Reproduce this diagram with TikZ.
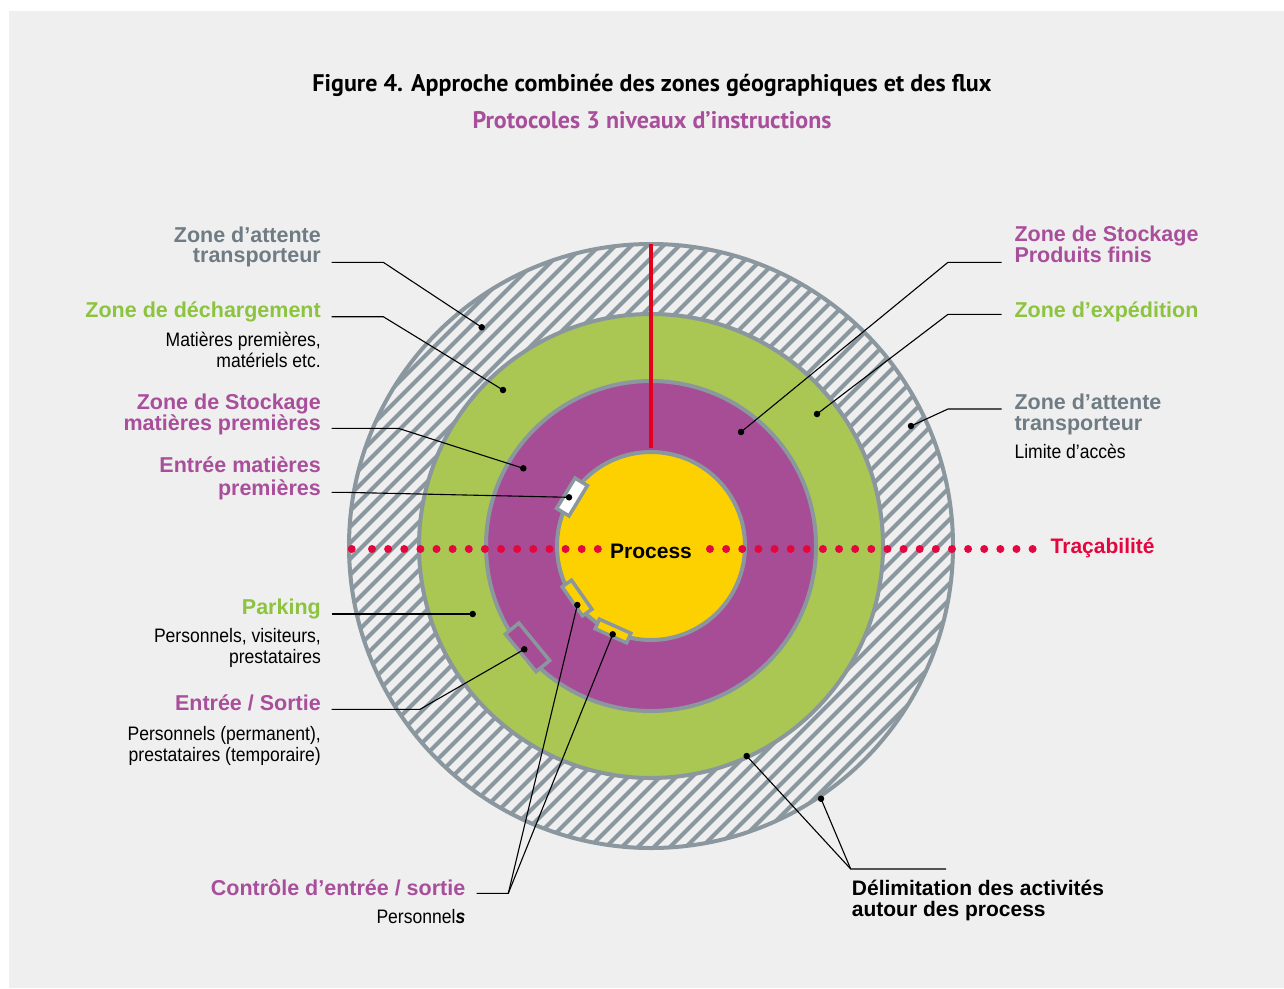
\documentclass[tikz,border=0pt]{standalone}
\usepackage{fontspec}
\setmainfont{Liberation Sans}
\newfontfamily\condfont[FakeStretch=0.9]{Liberation Sans}
\newfontfamily\titlefont{PT Sans}
\definecolor{panel}{HTML}{EFEFEF}
\definecolor{ringgray}{HTML}{8B979E}
\definecolor{greenfill}{HTML}{A9C752}
\definecolor{purplefill}{HTML}{A64D95}
\definecolor{yellowfill}{HTML}{FDD100}
\definecolor{txtgray}{HTML}{6F7C84}
\definecolor{txtgreen}{HTML}{8CC43F}
\definecolor{txtpurple}{HTML}{A94E9B}
\definecolor{dotred}{HTML}{E3063F}
\definecolor{linered}{HTML}{E2001A}
\tikzset{
  lbl/.style={inner sep=0pt, anchor=base east, font=\fontsize{21.5}{21.5}\selectfont\bfseries},
  lblR/.style={lbl, anchor=base west},
  big/.style={inner sep=0pt, font=\fontsize{21}{21}\selectfont\bfseries},
  subl/.style={inner sep=0pt, anchor=base east, font=\condfont\fontsize{19.5}{19.5}\selectfont},
  sublR/.style={subl, anchor=base west},
  gcol/.style={text=txtgray},
  grcol/.style={text=txtgreen},
  pcol/.style={text=txtpurple},
  leader/.style={draw=black, line width=1.1pt},
  ldot/.style={circle, fill=black, inner sep=0pt, minimum size=6.5pt},
  ring/.style={draw=ringgray, line width=4pt},
  hatch/.style={draw=ringgray, line width=4pt},
  gatebox/.style={draw=ringgray, line width=3.5pt, rectangle, inner sep=0pt},
  reddot/.style={fill=dotred},
}
\begin{document}
\begin{tikzpicture}[x=1pt,y=-1pt]
\useasboundingbox (0,0) rectangle (1284,988);
\fill[white] (0,0) rectangle (1284,988);
\fill[panel] (9,11) rectangle (1284,988);

% title
\node[inner sep=0pt, anchor=base, font=\titlefont\bfseries\fontsize{24}{24}\selectfont] (title) at (652,91) {Figure 4. Approche combinée des zones géographiques et des flux};
\node[inner sep=0pt, anchor=base, text=txtpurple, font=\titlefont\bfseries\fontsize{24}{24}\selectfont] (subtitle) at (652,128) {Protocoles 3 niveaux d’instructions};

% rings
\coordinate (C) at (651,546);
\begin{scope}
  \clip (C) circle (302);
  \fill[panel] (C) circle (302);
  \foreach \i in {-45,...,45} {
    \draw[hatch] ({651+16*\i-340},{546+340}) -- ({651+16*\i+340},{546-340});
  }
\end{scope}
\draw[ring] (C) circle (302);
\filldraw[ring, fill=greenfill] (C) circle (232);
\filldraw[ring, fill=purplefill] (C) circle (165);
\filldraw[ring, fill=yellowfill] (C) circle (94);

% red vertical line
\coordinate (rtop) at (651,244);
\coordinate (rbot) at (651,448);
\draw[linered, line width=4pt] (rtop) -- (rbot);

% gates
\node[gatebox, fill=white, minimum width=14.5pt, minimum height=35.5pt, rotate=148.7] (gWhite) at (572,497) {};
\node[gatebox, fill=yellowfill, minimum width=11.5pt, minimum height=35.5pt, rotate=-144.9] (gYelA) at (577,598) {};
\node[gatebox, fill=yellowfill, minimum width=10.5pt, minimum height=34.5pt, rotate=-114.1] (gYelB) at (613,631) {};
\node[gatebox, fill=purplefill, minimum width=17.5pt, minimum height=48.5pt, rotate=-140.6] (gPurple) at (527.5,647.3) {};

% tracability dots
\fill[reddot] (351.7,549) circle (4);
\foreach \i in {0,...,14} { \fill[reddot] ({372+16.13*\i},549) circle (4); }
\foreach \i in {0,...,20} { \fill[reddot] ({710+16.13*\i},549) circle (4); }

\node[big, anchor=base] (process) at (651,558) {Process};
\node[big, anchor=base west, text=dotred] (trac) at (1050.5,553.5) {Traçabilité};

% ---------- left labels ----------
\node[lbl, gcol] (zatL1) at (321,242.3) {Zone d’attente};
\node[lbl, gcol] (zatL2) at (321,262.7) {transporteur};
\node[lbl, grcol] (zdec) at (321,317.7) {Zone de déchargement};
\node[subl] (zdec1) at (321,346.7) {Matières premières,};
\node[subl] (zdec2) at (321,367.5) {matériels etc.};
\node[lbl, pcol] (zsmp1) at (321,409) {Zone de Stockage};
\node[lbl, pcol] (zsmp2) at (321,430) {matières premières};
\node[lbl, pcol] (emp1) at (321,472.7) {Entrée matières};
\node[lbl, pcol] (emp2) at (321,495) {premières};
\node[lbl, grcol] (park) at (321,614.3) {Parking};
\node[subl] (park1) at (321,642.7) {Personnels, visiteurs,};
\node[subl] (park2) at (321,663) {prestataires};
\node[lbl, pcol] (es) at (321,710) {Entrée / Sortie};
\node[subl] (es1) at (321,740) {Personnels (permanent),};
\node[subl] (es2) at (321,761) {prestataires (temporaire)};
\node[lbl, pcol] (ctrl) at (465.5,895) {Contrôle d’entrée / sortie};
\node[subl] (ctrl1) at (465.5,923.3) {Personnel{\bfseries\itshape s}};

% ---------- right labels ----------
\node[lblR, pcol] (zspf1) at (1014.3,241.7) {Zone de Stockage};
\node[lblR, pcol] (zspf2) at (1014.3,262.3) {Produits finis};
\node[lblR, grcol] (zexp) at (1014.3,317.3) {Zone d’expédition};
\node[lblR, gcol] (zatR1) at (1014.3,409) {Zone d’attente};
\node[lblR, gcol] (zatR2) at (1014.3,430) {transporteur};
\node[sublR] (zatR3) at (1014.3,458.3) {Limite d’accès};
\node[big, anchor=base west] (delim1) at (851.7,895.7) {Délimitation des activités};
\node[big, anchor=base west] (delim2) at (851.7,916.7) {autour des process};

% ---------- leader dots ----------
\node[ldot] (dZatL) at (481.7,327.3) {};
\node[ldot] (dZdec) at (503,390) {};
\node[ldot] (dZsmp) at (523.3,468.3) {};
\node[ldot] (dEmp) at (569,497.3) {};
\node[ldot] (dPark) at (472.7,614) {};
\node[ldot] (dEs) at (524.3,649.3) {};
\node[ldot] (dCtrlA) at (577.3,605) {};
\node[ldot] (dCtrlB) at (612.7,634.3) {};
\node[ldot] (dDelA) at (746.7,756) {};
\node[ldot] (dDelB) at (821,798.7) {};
\node[ldot] (dZspf) at (741,432) {};
\node[ldot] (dZexp) at (817,414) {};
\node[ldot] (dZatR) at (911,426) {};

% ---------- leader coordinates ----------
\coordinate (sZatL) at (331.7,262.3);  \coordinate (bZatL) at (383.3,262.3);
\coordinate (sZdec) at (331.7,316.7);  \coordinate (bZdec) at (383.3,316.7);
\coordinate (sZsmp) at (331.7,428.3);  \coordinate (bZsmp) at (398.3,428.3);
\coordinate (sEmp) at (331.7,492.3);   \coordinate (bEmp) at (343,492.3);
\coordinate (sPark) at (331.7,614);
\coordinate (sEs) at (331.7,709.3);    \coordinate (bEs) at (420,709.3);
\coordinate (sCtrl) at (476.7,893.3);  \coordinate (bCtrl) at (508.3,893.3);
\coordinate (sDel) at (946,869);       \coordinate (bDel) at (850.7,869);
\coordinate (sZspf) at (1001.7,262.3); \coordinate (bZspf) at (948,262.3);
\coordinate (sZexp) at (1001.7,314.3); \coordinate (bZexp) at (948,314.3);
\coordinate (sZatR) at (1001.7,409);   \coordinate (bZatR) at (948,409);

\draw[leader] (sZatL) -- (bZatL) -- (dZatL.center);
\draw[leader] (sZdec) -- (bZdec) -- (dZdec.center);
\draw[leader] (sZsmp) -- (bZsmp) -- (dZsmp.center);
\draw[leader] (sEmp) -- (bEmp) -- (dEmp.center);
\draw[leader] (sPark) -- (dPark.center);
\draw[leader] (sEs) -- (bEs) -- (dEs.center);
\draw[leader] (sCtrl) -- (bCtrl) -- (dCtrlA.center);
\draw[leader] (bCtrl) -- (dCtrlB.center);
\draw[leader] (sDel) -- (bDel) -- (dDelA.center);
\draw[leader] (bDel) -- (dDelB.center);
\draw[leader] (sZspf) -- (bZspf) -- (dZspf.center);
\draw[leader] (sZexp) -- (bZexp) -- (dZexp.center);
\draw[leader] (sZatR) -- (bZatR) -- (dZatR.center);
\end{tikzpicture}
\end{document}
